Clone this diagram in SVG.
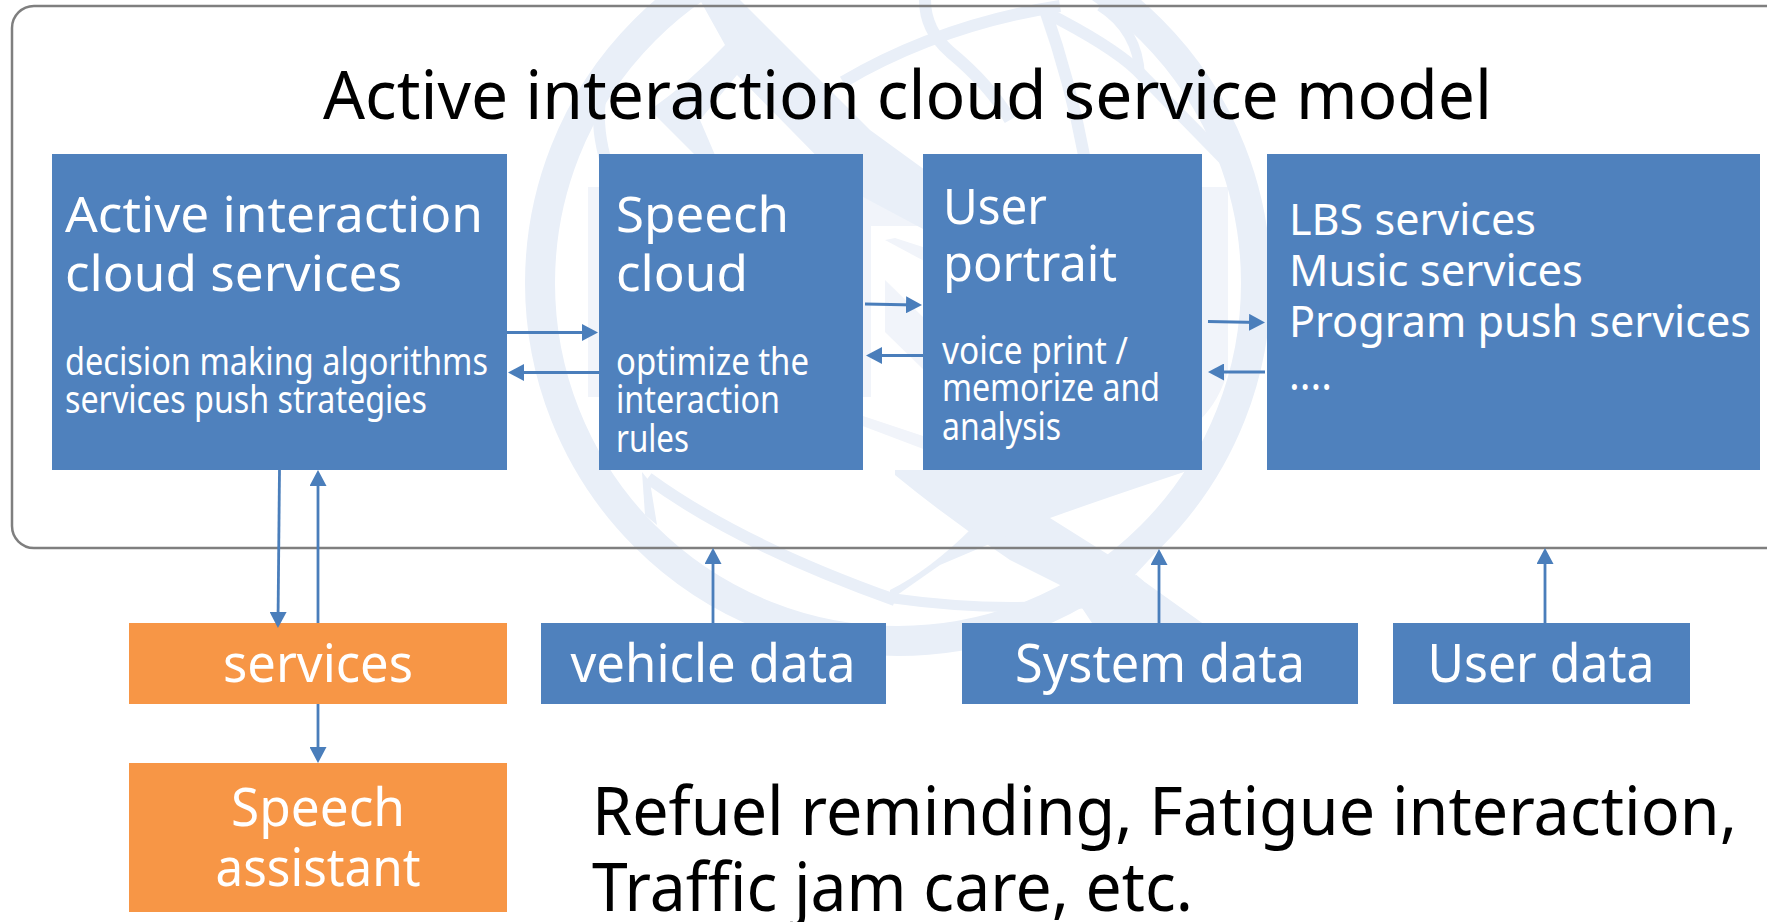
<svg xmlns="http://www.w3.org/2000/svg" width="1767" height="922" viewBox="0 0 1767 922">
<style>
text{font-family:"Noto Sans","Open Sans","Liberation Sans",sans-serif}
.w{fill:#fff}.k{fill:#000}
.b{fill:#4f81bd}.o{fill:#f79646}
.c{stroke:#4a7ebb;stroke-width:2.8;fill:none;marker-end:url(#a)}
.wm{fill:none;stroke:#e9eff8}
.wf{fill:#e9eff8}.wl{fill:#f1f4fa}
.h1{font-size:50px}.h2{font-size:38px}.h3{font-size:44px}.h4{font-size:52px}.h5{font-size:67px}.m{text-anchor:middle}
</style>
<defs><marker id="a" markerUnits="userSpaceOnUse" markerWidth="17" markerHeight="17" refX="10" refY="8.5" orient="auto"><path d="M0 0L16 8.5L0 17Z" fill="#4a7ebb"/></marker></defs>
<rect width="1767" height="922" fill="#fff"/>
<g id="watermark">
<path class="wl" d="M588 187H1228V370Q1220 400 1200 420L1202 226H871V397H588Z"/>
<path class="wl" d="M885 280L926 320V372L885 332Z"/>
<path class="wl" d="M885 240L926 262V248L895 238Z"/>
<path class="wl" d="M860 415L926 437V450L860 425Z"/>
<circle class="wm" cx="898" cy="283" r="358" stroke-width="30"/>
<path class="wf" d="M700 0L740 0L870 130L925 170L925 230L850 190L737 75L700 120L730 190L650 110Q692 80 725 45Z"/>
<path class="wm" stroke-width="12" d="M600 100Q596 130 607 165"/>
<path class="wm" stroke-width="12" d="M843 82Q940 25 1060 6"/>
<path class="wm" stroke-width="12" d="M925 0Q925 30 950 52Q990 85 1010 120"/>
<path class="wm" stroke-width="12" d="M1045 10Q1070 80 1085 160"/>
<path class="wm" stroke-width="12" d="M1045 12Q1110 45 1137 70L1225 160"/>
<path class="wm" stroke-width="10" d="M1100 6Q1138 30 1140 76"/>
<path class="wf" d="M642 472L645 515L657 525L650 482Z"/>
<path class="wm" stroke-width="12" d="M648 478Q740 545 895 600"/>
<path class="wf" d="M895 470L1190 470Q1100 500 1050 518L1120 562L1160 548L1135 575L1205 625L1110 650L1070 590L1010 560Q950 520 895 475Z"/>
<path class="wf" d="M1006 537L972 528Q930 570 890 590V600L940 565Z"/>
<path class="wm" stroke-width="10" d="M890 598Q1010 615 1110 600Q1130 590 1140 578"/>
</g>
<rect id="frame" x="12" y="6" width="1800" height="542" rx="22" fill="none" stroke="#7f7f7f" stroke-width="2.5"/>
<text id="title" class="k h5" x="323" y="119" textLength="1169" lengthAdjust="spacingAndGlyphs">Active interaction cloud service model</text>
<g id="n-active"><rect class="b" x="52" y="154" width="455" height="316"/>
<text class="w h1" x="65" y="232" textLength="418" lengthAdjust="spacingAndGlyphs">Active interaction</text>
<text class="w h1" x="65" y="291" textLength="337" lengthAdjust="spacingAndGlyphs">cloud services</text>
<text class="w h2" x="65" y="375" textLength="423" lengthAdjust="spacingAndGlyphs">decision making algorithms</text>
<text class="w h2" x="65" y="413" textLength="362" lengthAdjust="spacingAndGlyphs">services push strategies</text></g>
<g id="n-speech"><rect class="b" x="599" y="154" width="264" height="316"/>
<text class="w h1" x="616" y="232" textLength="173" lengthAdjust="spacingAndGlyphs">Speech</text>
<text class="w h1" x="616" y="291" textLength="132" lengthAdjust="spacingAndGlyphs">cloud</text>
<text class="w h2" x="616" y="375" textLength="193" lengthAdjust="spacingAndGlyphs">optimize the</text>
<text class="w h2" x="616" y="413" textLength="164" lengthAdjust="spacingAndGlyphs">interaction</text>
<text class="w h2" x="616" y="452" textLength="73" lengthAdjust="spacingAndGlyphs">rules</text></g>
<g id="n-user"><rect class="b" x="923" y="154" width="279" height="316"/>
<text class="w h1" x="943" y="224" textLength="104" lengthAdjust="spacingAndGlyphs">User</text>
<text class="w h1" x="943" y="281" textLength="174" lengthAdjust="spacingAndGlyphs">portrait</text>
<text class="w h2" x="942" y="364" textLength="186" lengthAdjust="spacingAndGlyphs">voice print /</text>
<text class="w h2" x="942" y="401" textLength="218" lengthAdjust="spacingAndGlyphs">memorize and</text>
<text class="w h2" x="942" y="440" textLength="119" lengthAdjust="spacingAndGlyphs">analysis</text></g>
<g id="n-lbs"><rect class="b" x="1267" y="154" width="493" height="316"/>
<text class="w h3" x="1289" y="235" textLength="247" lengthAdjust="spacingAndGlyphs">LBS services</text>
<text class="w h3" x="1289" y="286" textLength="294" lengthAdjust="spacingAndGlyphs">Music services</text>
<text class="w h3" x="1289" y="337" textLength="462" lengthAdjust="spacingAndGlyphs">Program push services</text>
<text class="w h3" x="1289" y="390" textLength="43" lengthAdjust="spacingAndGlyphs">....</text></g>
<g id="n-services"><rect class="o" x="129" y="623" width="378" height="81"/>
<text class="w h4 m" x="318" y="682" textLength="190" lengthAdjust="spacingAndGlyphs">services</text></g>
<g id="n-assistant"><rect class="o" x="129" y="763" width="378" height="149"/>
<text class="w h4 m" x="318" y="826" textLength="174" lengthAdjust="spacingAndGlyphs">Speech</text>
<text class="w h4 m" x="318" y="886" textLength="205" lengthAdjust="spacingAndGlyphs">assistant</text></g>
<g id="n-vehicle"><rect class="b" x="541" y="623" width="345" height="81"/>
<text class="w h4 m" x="713" y="682" textLength="285" lengthAdjust="spacingAndGlyphs">vehicle data</text></g>
<g id="n-system"><rect class="b" x="962" y="623" width="396" height="81"/>
<text class="w h4 m" x="1160" y="682" textLength="290" lengthAdjust="spacingAndGlyphs">System data</text></g>
<g id="n-userdata"><rect class="b" x="1393" y="623" width="297" height="81"/>
<text class="w h4 m" x="1541" y="682" textLength="227" lengthAdjust="spacingAndGlyphs">User data</text></g>
<g id="caption">
<text class="k h5" x="592" y="835" textLength="1145" lengthAdjust="spacingAndGlyphs">Refuel reminding, Fatigue interaction,</text>
<text class="k h5" x="592" y="911" textLength="601" lengthAdjust="spacingAndGlyphs">Traffic jam care, etc.</text></g>
<g id="connectors">
<path class="c" d="M507 332.5H592"/>
<path class="c" d="M599 372.5H514"/>
<path class="c" d="M865 304L916 305"/>
<path class="c" d="M923 355.5H872"/>
<path class="c" d="M1208 321.5L1259 322.5"/>
<path class="c" d="M1265 372H1214"/>
<path class="c" d="M279.5 470L278 622"/>
<path class="c" d="M318 623V476"/>
<path class="c" d="M318 704V757"/>
<path class="c" d="M713 623V554"/>
<path class="c" d="M1159 623V555"/>
<path class="c" d="M1545 623V554"/>
</g>
</svg>
